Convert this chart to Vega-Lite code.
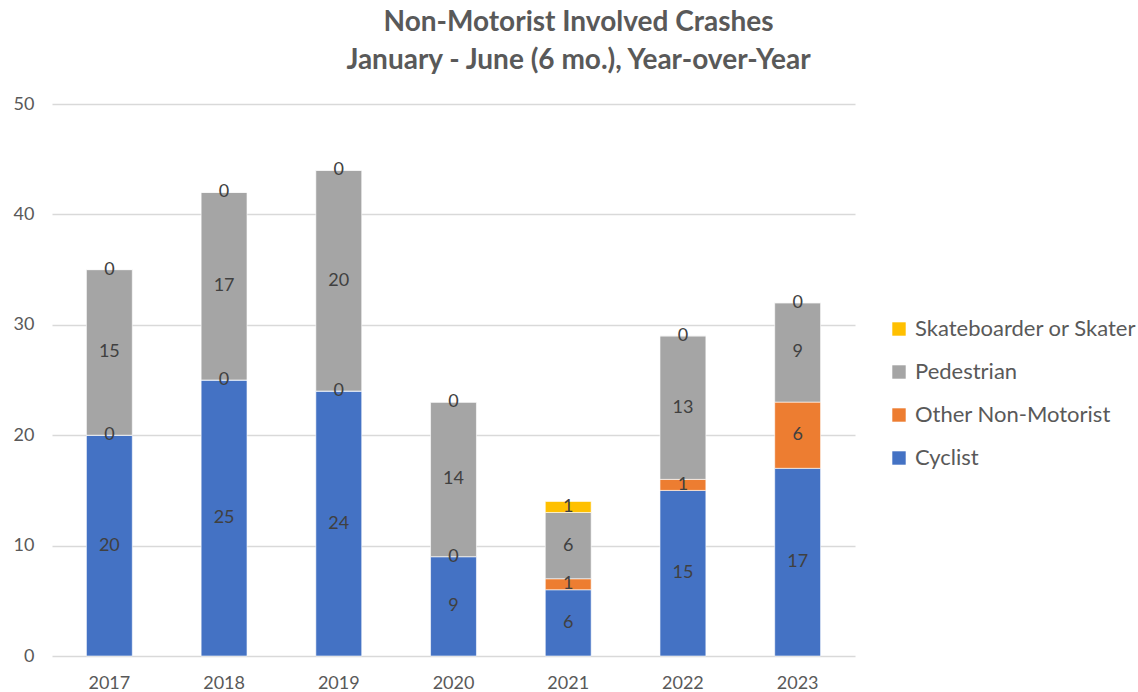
{
  "$schema": "https://vega.github.io/schema/vega-lite/v6.json",
  "width": 803,
  "height": 552,
  "autosize": {"type": "none"},
  "padding": {"left": 52, "top": 104, "right": 283, "bottom": 36},
  "background": "white",
  "config": {
    "font": "Lato",
    "view": {"stroke": null}
  },
  "title": {
    "text": ["Non-Motorist Involved Crashes", "January - June (6 mo.), Year-over-Year"],
    "font": "Lato",
    "fontSize": 28,
    "fontWeight": "bold",
    "color": "#595959",
    "anchor": "middle",
    "dx": 125,
    "lineHeight": 38,
    "offset": 20
  },
  "data": {
    "values": [
      {"year": "2017", "type": "Cyclist", "ord": 1, "count": 20},
      {"year": "2017", "type": "Other Non-Motorist", "ord": 2, "count": 0},
      {"year": "2017", "type": "Pedestrian", "ord": 3, "count": 15},
      {"year": "2017", "type": "Skateboarder or Skater", "ord": 4, "count": 0},
      {"year": "2018", "type": "Cyclist", "ord": 1, "count": 25},
      {"year": "2018", "type": "Other Non-Motorist", "ord": 2, "count": 0},
      {"year": "2018", "type": "Pedestrian", "ord": 3, "count": 17},
      {"year": "2018", "type": "Skateboarder or Skater", "ord": 4, "count": 0},
      {"year": "2019", "type": "Cyclist", "ord": 1, "count": 24},
      {"year": "2019", "type": "Other Non-Motorist", "ord": 2, "count": 0},
      {"year": "2019", "type": "Pedestrian", "ord": 3, "count": 20},
      {"year": "2019", "type": "Skateboarder or Skater", "ord": 4, "count": 0},
      {"year": "2020", "type": "Cyclist", "ord": 1, "count": 9},
      {"year": "2020", "type": "Other Non-Motorist", "ord": 2, "count": 0},
      {"year": "2020", "type": "Pedestrian", "ord": 3, "count": 14},
      {"year": "2020", "type": "Skateboarder or Skater", "ord": 4, "count": 0},
      {"year": "2021", "type": "Cyclist", "ord": 1, "count": 6},
      {"year": "2021", "type": "Other Non-Motorist", "ord": 2, "count": 1},
      {"year": "2021", "type": "Pedestrian", "ord": 3, "count": 6},
      {"year": "2021", "type": "Skateboarder or Skater", "ord": 4, "count": 1},
      {"year": "2022", "type": "Cyclist", "ord": 1, "count": 15},
      {"year": "2022", "type": "Other Non-Motorist", "ord": 2, "count": 1},
      {"year": "2022", "type": "Pedestrian", "ord": 3, "count": 13},
      {"year": "2022", "type": "Skateboarder or Skater", "ord": 4, "count": 0},
      {"year": "2023", "type": "Cyclist", "ord": 1, "count": 17},
      {"year": "2023", "type": "Other Non-Motorist", "ord": 2, "count": 6},
      {"year": "2023", "type": "Pedestrian", "ord": 3, "count": 9},
      {"year": "2023", "type": "Skateboarder or Skater", "ord": 4, "count": 0}
    ]
  },
  "transform": [
    {"stack": "count", "groupby": ["year"], "sort": [{"field": "ord", "order": "ascending"}], "as": ["y0", "y1"]},
    {"calculate": "(datum.y0 + datum.y1) / 2", "as": "ymid"}
  ],
  "encoding": {
    "x": {
      "field": "year",
      "type": "ordinal",
      "title": null,
      "scale": {"paddingInner": 0.6, "paddingOuter": 0.3},
      "axis": {
        "labelAngle": 0,
        "labelFont": "Lato",
        "labelFontSize": 18,
        "labelColor": "#595959",
        "labelPadding": 18,
        "ticks": false,
        "domain": false,
        "grid": false
      }
    }
  },
  "layer": [
    {
      "mark": {"type": "bar", "stroke": "#ffffff", "strokeWidth": 1, "strokeOpacity": 0.6},
      "encoding": {
        "y": {
          "field": "y1",
          "type": "quantitative",
          "title": null,
          "scale": {"domain": [0, 50]},
          "axis": {
            "values": [0, 10, 20, 30, 40, 50],
            "labelFont": "Lato",
            "labelFontSize": 18,
            "labelColor": "#595959",
            "labelPadding": 18,
            "ticks": false,
            "domain": false,
            "gridColor": "#d9d9d9",
            "gridWidth": 1.3
          }
        },
        "y2": {"field": "y0"},
        "color": {
          "field": "type",
          "type": "nominal",
          "title": null,
          "scale": {
            "domain": ["Skateboarder or Skater", "Pedestrian", "Other Non-Motorist", "Cyclist"],
            "range": ["#FFC000", "#A5A5A5", "#ED7D31", "#4472C4"]
          },
          "legend": {
            "orient": "none",
            "legendX": 836,
            "legendY": 214,
            "symbolType": "square",
            "symbolSize": 180,
            "symbolStrokeWidth": 0,
            "labelFont": "Lato",
            "labelFontSize": 22,
            "labelColor": "#595959",
            "labelOffset": 5,
            "rowPadding": 21,
            "labelLimit": 400
          }
        }
      }
    },
    {
      "mark": {"type": "text", "font": "Lato", "fontSize": 18, "color": "#404040", "baseline": "middle"},
      "encoding": {
        "y": {"field": "ymid", "type": "quantitative"},
        "text": {"field": "count", "type": "quantitative"}
      }
    }
  ]
}
